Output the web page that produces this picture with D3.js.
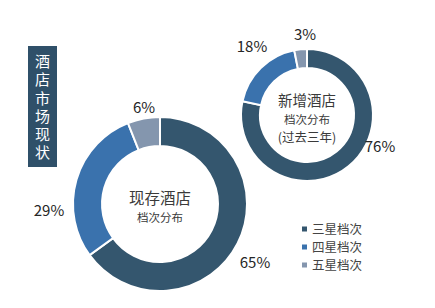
<!DOCTYPE html>
<html lang="zh">
<head>
<meta charset="utf-8">
<title>酒店市场现状</title>
<script src="https://d3js.org/d3.v7.min.js"></script>
<style>
  body { margin: 0; background: #fff; }
  text { font-family: "Noto Sans CJK SC", "Noto Sans", sans-serif; }
</style>
</head>
<body>
<script>
// data
var categories = ["三星档次", "四星档次", "五星档次"];
var existing = [65, 29, 6];      // 现存酒店档次分布
var newBuilt = [76, 18, 3];      // 新增酒店档次分布(过去三年)
var colors = ["#34566e", "#3a72ad", "#8496ae"];
var title = "酒店市场现状";

var svg = d3.select("body").append("svg")
    .attr("width", 435)
    .attr("height", 308);

var color = d3.scaleOrdinal().domain(categories).range(colors);

// vertical title box
svg.append("rect")
    .attr("x", 28).attr("y", 46)
    .attr("width", 29).attr("height", 121)
    .attr("fill", "#2f5069");

svg.append("text")
    .attr("x", 42.5)
    .attr("y", 54)
    .style("writing-mode", "vertical-rl")
    .attr("letter-spacing", 3.2)
    .attr("fill", "#fff")
    .attr("font-size", 15)
    .text(title);

var pie = d3.pie().sort(null);

// centre lines: [text, font size, baseline offset]
function donut(values, cx, cy, rOuter, rInner, labels, centerLines) {
  var g = svg.append("g").attr("transform", "translate(" + cx + "," + cy + ")");
  var arc = d3.arc().innerRadius(rInner).outerRadius(rOuter);
  var arcs = pie(values);

  g.selectAll("path")
    .data(arcs)
    .enter().append("path")
      .attr("d", arc)
      .attr("fill", (d, i) => color(categories[i]))
      .attr("stroke", "#fff")
      .attr("stroke-width", 2);

  g.selectAll("text.pct")
    .data(arcs)
    .enter().append("text")
      .attr("class", "pct")
      .attr("x", (d, i) => labels[i][0])
      .attr("y", (d, i) => labels[i][1])
      .attr("text-anchor", "middle")
      .attr("font-size", 15)
      .attr("fill", "#262626")
      .text(d => d.data + "%");

  g.selectAll("text.center")
    .data(centerLines)
    .enter().append("text")
      .attr("class", "center")
      .attr("x", 0)
      .attr("y", d => d[2])
      .attr("text-anchor", "middle")
      .attr("font-size", d => d[1])
      .attr("fill", "#3a3a3a")
      .text(d => d[0]);
}

donut(existing, 160, 204, 87, 58,
  [[95, 64], [-111, 12], [-16, -91]],
  [["现存酒店", 15.5, -0.5], ["档次分布", 11.5, 17.5]]);

donut(newBuilt, 307, 115, 66, 47,
  [[73, 37], [-55, -63], [-2, -75]],
  [["新增酒店", 14.5, -9], ["档次分布", 11.5, 8.5], ["(过去三年)", 12.5, 26.5]]);

// legend
var legend = svg.selectAll("g.legend")
  .data(categories)
  .enter().append("g")
    .attr("class", "legend")
    .attr("transform", (d, i) => "translate(302," + (229 + i * 18) + ")");

legend.append("rect")
    .attr("x", 0).attr("y", -2.5)
    .attr("width", 5).attr("height", 5)
    .attr("fill", d => color(d));

legend.append("text")
    .attr("x", 10).attr("y", 4.5)
    .attr("font-size", 12.5)
    .attr("fill", "#444")
    .text(d => d);
</script>
</body>
</html>
